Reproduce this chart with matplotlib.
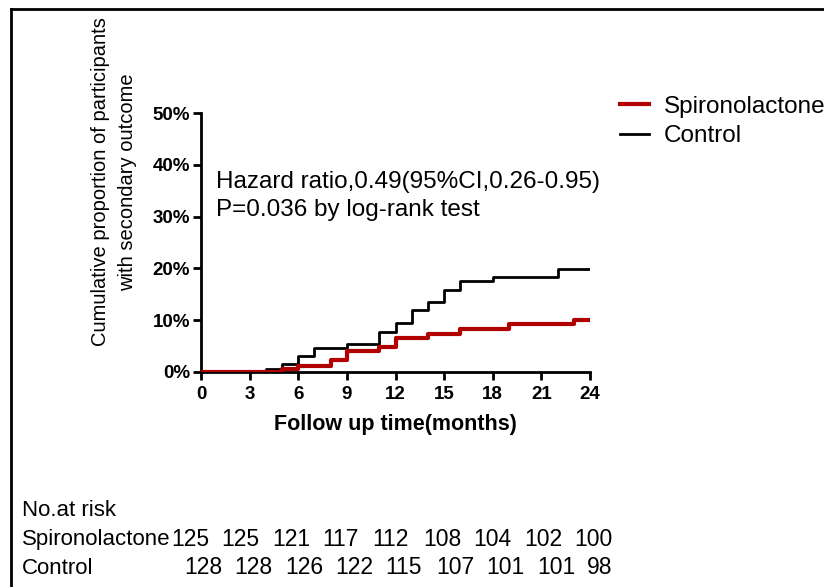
import matplotlib
matplotlib.use('Agg')
import matplotlib.pyplot as plt
from matplotlib.lines import Line2D

plt.rcParams['font.family'] = ['Liberation Sans', 'DejaVu Sans']

# ── Kaplan-Meier style cumulative incidence (step after each time) ──
ctrl_t = [0, 4, 5, 6, 7, 9, 11, 12, 13, 14, 15, 16, 18, 22, 24]
ctrl_y = [0, 0.5, 1.5, 3.1, 4.6, 5.4, 7.7, 9.4, 11.9, 13.5, 15.9, 17.5, 18.3, 19.9, 19.9]
spiro_t = [0, 5, 6, 8, 9, 11, 12, 14, 16, 19, 23, 24]
spiro_y = [0, 0.5, 1.2, 2.3, 4.1, 4.9, 6.6, 7.4, 8.3, 9.2, 10.1, 10.1]

x_ticks = [0, 3, 6, 9, 12, 15, 18, 21, 24]
y_ticks = [0, 10, 20, 30, 40, 50]

risk_spiro = [125, 125, 121, 117, 112, 108, 104, 102, 100]
risk_ctrl = [128, 128, 126, 122, 115, 107, 101, 101, 98]

W, H = 824, 587
fig = plt.figure(figsize=(W / 100, H / 100), dpi=100)
ax = fig.add_axes([201 / W, 1 - 372 / H, (590 - 201) / W, (372 - 113) / H])

ax.step(ctrl_t, ctrl_y, where='post', color='black', lw=2, label='Control', zorder=3)
ax.step(spiro_t, spiro_y, where='post', color='#b00000', lw=3, label='Spironolactone', zorder=4)

ax.set_xlim(0, 24)
ax.set_ylim(0, 50)
ax.set_xticks(x_ticks)
ax.set_yticks(y_ticks)
ax.set_yticklabels([f"{v}%" for v in y_ticks])
for s in ['top', 'right']:
    ax.spines[s].set_visible(False)
for s in ['left', 'bottom']:
    ax.spines[s].set_linewidth(2)
ax.tick_params(width=2, length=6, labelsize=13.5)
ax.tick_params(axis='x', pad=4)
ax.tick_params(axis='y', pad=2)
for lab in ax.get_xticklabels() + ax.get_yticklabels():
    lab.set_fontweight('bold')

ax.set_xlabel('Follow up time(months)', fontsize=15.5, fontweight='bold', labelpad=8)
fig.text(114 / W, 1 - 182 / H, 'Cumulative proportion of participants\nwith secondary outcome',
         rotation=90, ha='center', va='center', fontsize=14.5, linespacing=1.55)

ax.text(0.9, 36.7, 'Hazard ratio,0.49(95%CI,0.26-0.95)', fontsize=17.5, va='center', ha='left')
ax.text(0.9, 31.3, 'P=0.036 by log-rank test', fontsize=17.5, va='center', ha='left')

# legend (Spironolactone first)
handles = [Line2D([], [], color='#b00000', lw=3), Line2D([], [], color='black', lw=2)]
fig.legend(handles, ['Spironolactone', 'Control'], loc='upper left',
           bbox_to_anchor=(610 / W, 1 - 86 / H), frameon=False, fontsize=17.5,
           handlelength=1.2, handletextpad=0.6, labelspacing=0.3, borderaxespad=0)

# number at risk table
fs_tab = 16
step = 50.4
fig.text(22 / W, 1 - 511 / H, 'No.at risk', fontsize=fs_tab, va='center')
fig.text(22 / W, 1 - 540 / H, 'Spironolactone', fontsize=fs_tab, va='center')
fig.text(22 / W, 1 - 568 / H, 'Control', fontsize=fs_tab, va='center')
for i, v in enumerate(risk_spiro):
    fig.text((171 + i * step) / W, 1 - 540 / H, str(v), fontsize=16.5, va='center')
for i, v in enumerate(risk_ctrl):
    fig.text((184 + i * step) / W, 1 - 568 / H, str(v), fontsize=16.5, va='center')

# outer frame (left and top edges)
fig.add_artist(Line2D([11 / W, 11 / W], [0, 1 - 9 / H], color='black', lw=2,
                      transform=fig.transFigure))
fig.add_artist(Line2D([11 / W, 1], [1 - 9 / H, 1 - 9 / H], color='black', lw=2,
                      transform=fig.transFigure))

fig.savefig('out.png', dpi=100, facecolor='white')
